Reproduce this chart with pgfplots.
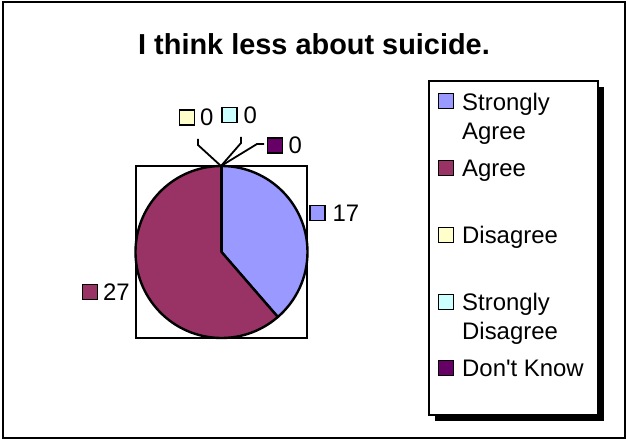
\documentclass[border=0pt]{standalone}
\usepackage{fontspec}
\setmainfont{Liberation Sans}
\usepackage{pgfplots}
\usepackage{pgfplotstable}
\pgfplotsset{compat=1.18}

\definecolor{cSA}{HTML}{9999FF}
\definecolor{cA}{HTML}{993366}
\definecolor{cD}{HTML}{FFFFCC}
\definecolor{cSD}{HTML}{CCFFFF}
\definecolor{cDK}{HTML}{660066}

% responses: Strongly Agree, Agree, Disagree, Strongly Disagree, Don't Know
\pgfplotstableread{
resp value
SA 17
A  27
D  0
SD 0
DK 0
}\piedata

\newcommand\lbl{\fontsize{24}{29}\selectfont}

\begin{document}
\begin{tikzpicture}
\pgfplotstablegetelem{0}{value}\of\piedata \let\vSA\pgfplotsretval
\pgfplotstablegetelem{1}{value}\of\piedata \let\vA\pgfplotsretval
\pgfplotstablegetelem{2}{value}\of\piedata \let\vD\pgfplotsretval
\pgfplotstablegetelem{3}{value}\of\piedata \let\vSD\pgfplotsretval
\pgfplotstablegetelem{4}{value}\of\piedata \let\vDK\pgfplotsretval
\pgfmathsetmacro\tot{\vSA+\vA+\vD+\vSD+\vDK}
\pgfmathsetmacro\aA{90-360*\vSA/\tot}
\pgfmathsetmacro\aB{\aA-360*\vA/\tot}
\pgfmathsetmacro\aC{\aB-360*\vD/\tot}
\pgfmathsetmacro\aD{\aC-360*\vSD/\tot}
\pgfmathsetmacro\aE{\aD-360*\vDK/\tot}
\begin{axis}[
    scale only axis, width=627bp, height=440bp,
    xmin=0, xmax=627, ymin=0, ymax=440, y dir=reverse,
    hide axis, clip=false,
]
% chart area
\path[fill=white] (axis cs:0,0) rectangle (axis cs:627,440);
\draw[line width=2.2bp] (axis cs:3,2) rectangle (axis cs:625,438);
\node[anchor=base, font=\fontsize{29}{34}\selectfont\bfseries, inner sep=0pt]
    at (axis cs:314,55) {I think less about suicide.};

% plot area
\draw[line width=2.2bp] (axis cs:136,166) rectangle (axis cs:307,338);

% slices, clockwise from the top
\filldraw[fill=cSA, line width=2.4bp, line join=round] (axis cs:221.5,252) -- ++(90:86bp)
    arc[start angle=90, end angle=\aA, radius=86bp] -- cycle;
\filldraw[fill=cA, line width=2.4bp, line join=round] (axis cs:221.5,252) -- ++(\aA:86bp)
    arc[start angle=\aA, end angle=\aB, radius=86bp] -- cycle;
\filldraw[fill=cD, line width=2.4bp] (axis cs:221.5,252) -- ++(\aB:86bp)
    arc[start angle=\aB, end angle=\aC, radius=86bp] -- cycle;
\filldraw[fill=cSD, line width=2.4bp] (axis cs:221.5,252) -- ++(\aC:86bp)
    arc[start angle=\aC, end angle=\aD, radius=86bp] -- cycle;
\filldraw[fill=cDK, line width=2.4bp] (axis cs:221.5,252) -- ++(\aD:86bp)
    arc[start angle=\aD, end angle=\aE, radius=86bp] -- cycle;

% leader lines for the empty slices
\draw[line width=1.8bp] (axis cs:221,166) -- (axis cs:198,145) -- (axis cs:198,139);
\draw[line width=1.8bp] (axis cs:221,166) -- (axis cs:241,143) -- (axis cs:241,137);
\draw[line width=1.8bp] (axis cs:221,166) -- (axis cs:257,144) -- (axis cs:264,144);

% data labels
\draw[fill=cSA, line width=1.8bp] (axis cs:310,205.5) rectangle (axis cs:325,220.5);
\node[anchor=base west, font=\lbl, inner sep=0pt] at (axis cs:332.5,221.6) {\vSA};
\draw[fill=cA, line width=1.8bp] (axis cs:82.5,284.5) rectangle (axis cs:97.5,299.5);
\node[anchor=base west, font=\lbl, inner sep=0pt] at (axis cs:103,300.6) {\vA};
\draw[fill=cD, line width=1.8bp] (axis cs:179.5,110) rectangle (axis cs:194.5,125);
\node[anchor=base west, font=\lbl, inner sep=0pt] at (axis cs:200,126) {\vD};
\draw[fill=cSD, line width=1.8bp] (axis cs:222,107.5) rectangle (axis cs:237,122.5);
\node[anchor=base west, font=\lbl, inner sep=0pt] at (axis cs:243.5,123.6) {\vSD};
\draw[fill=cDK, line width=1.8bp] (axis cs:267.5,138) rectangle (axis cs:282.5,153);
\node[anchor=base west, font=\lbl, inner sep=0pt] at (axis cs:288.5,154) {\vDK};

% legend
\fill[black] (axis cs:435,87) rectangle (axis cs:604,421);
\draw[fill=white, line width=1.8bp] (axis cs:429,81) rectangle (axis cs:598,415);
\draw[fill=cSA, line width=1.8bp] (axis cs:438.5,93.5) rectangle (axis cs:453.5,108.5);
\node[anchor=base west, font=\lbl, inner sep=0pt] at (axis cs:462,110.6) {Strongly};
\node[anchor=base west, font=\lbl, inner sep=0pt] at (axis cs:462,139.6) {Agree};
\draw[fill=cA, line width=1.8bp] (axis cs:438.5,160.5) rectangle (axis cs:453.5,175.5);
\node[anchor=base west, font=\lbl, inner sep=0pt] at (axis cs:462,176.6) {Agree};
\draw[fill=cD, line width=1.8bp] (axis cs:438.5,227.5) rectangle (axis cs:453.5,242.5);
\node[anchor=base west, font=\lbl, inner sep=0pt] at (axis cs:462,243.6) {Disagree};
\draw[fill=cSD, line width=1.8bp] (axis cs:438.5,294.5) rectangle (axis cs:453.5,309.5);
\node[anchor=base west, font=\lbl, inner sep=0pt] at (axis cs:462,310.6) {Strongly};
\node[anchor=base west, font=\lbl, inner sep=0pt] at (axis cs:462,339.6) {Disagree};
\draw[fill=cDK, line width=1.8bp] (axis cs:438.5,360.5) rectangle (axis cs:453.5,375.5);
\node[anchor=base west, font=\lbl, inner sep=0pt] at (axis cs:462,376.6) {Don\textquotesingle t Know};
\end{axis}
\end{tikzpicture}
\end{document}
